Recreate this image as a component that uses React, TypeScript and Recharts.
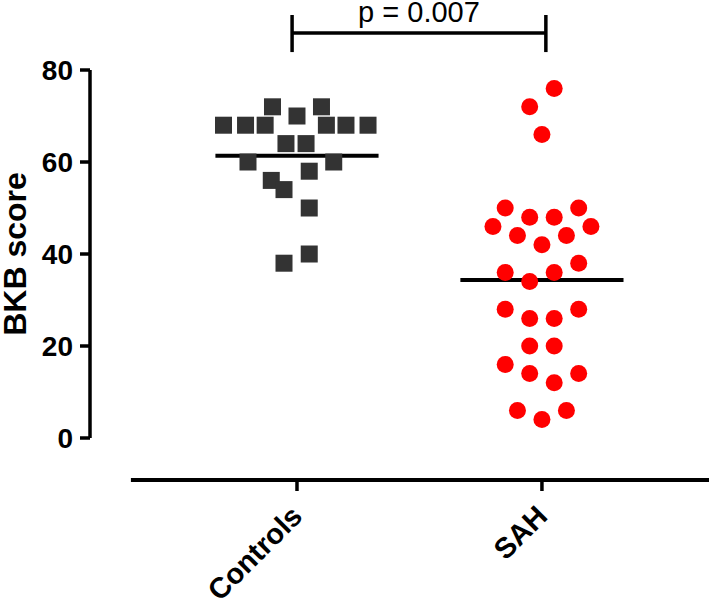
import { ComposedChart, Scatter, XAxis, YAxis, ReferenceLine, Label } from "recharts";

const GROUPS = ["Controls", "SAH"];
const GROUP_POS = [1, 2];

// BKB scores; the *_SPREAD arrays are the sideways scatter of each dot around its group
const CONTROLS_SCORE = [72, 72, 70, 68, 68, 68, 68, 68, 68, 64, 64, 60, 60, 58, 56, 54, 50, 40, 38];
const CONTROLS_SPREAD = [-0.1, 0.1, 0, -0.3, -0.21, -0.13, 0.12, 0.2, 0.29, -0.045, 0.037, -0.2, 0.15, 0.05, -0.105, -0.053, 0.05, 0.05, -0.053];

const SAH_SCORE = [76, 72, 66, 50, 50, 48, 48, 46, 46, 44, 44, 42, 38, 36, 36, 34, 28, 28, 26, 26, 20, 20, 16, 14, 14, 12, 6, 6, 4];
const SAH_SPREAD = [0.05, -0.05, 0, -0.15, 0.15, -0.05, 0.05, -0.2, 0.2, -0.1, 0.1, 0, 0.15, -0.15, 0.05, -0.05, -0.15, 0.15, -0.05, 0.05, -0.05, 0.05, -0.15, -0.05, 0.15, 0.05, -0.1, 0.1, 0];

const Y_TICKS = [0, 20, 40, 60, 80];
const P_VALUE = "p = 0.007";

const X_DOMAIN: [number, number] = [0.155, 2.682];
const Y_DOMAIN: [number, number] = [-9.13, 95.22];
const X_AXIS_START = 0.322;
const MEAN_HALF = 0.333;
const BRACKET_Y = 88.04;
const BRACKET_TOP = 91.96;
const BRACKET_BOTTOM = 83.9;
const BRACKET_LEFT = 0.98;
const BRACKET_RIGHT = 2.016;

const FONT = "'Liberation Sans', Arial, Helvetica, sans-serif";

const controls = CONTROLS_SCORE.map((y, i) => ({ x: GROUP_POS[0] + CONTROLS_SPREAD[i], y }));
const sah = SAH_SCORE.map((y, i) => ({ x: GROUP_POS[1] + SAH_SPREAD[i], y }));

const mean = (arr: number[]) => arr.reduce((a, b) => a + b, 0) / arr.length;

const Square = (p: any) => (
  <rect x={p.cx - 8.5} y={p.cy - 8.5} width={17} height={17} fill="#333333" />
);
const RedDot = (p: any) => <circle cx={p.cx} cy={p.cy} r={8.5} fill="#ff0000" />;

const CategoryTick = (props: any) => {
  const { x, y, payload } = props;
  const idx = GROUP_POS.indexOf(payload.value);
  return (
    <g transform={`translate(${x + 7},${y + 25})`}>
      <text
        textAnchor="end"
        transform="rotate(-45)"
        fontSize={29}
        fontWeight="bold"
        fontFamily={FONT}
        fill="#000"
      >
        {GROUPS[idx]}
      </text>
    </g>
  );
};

const line = { stroke: "#000", strokeWidth: 3.5 };

export default function App() {
  return (
    <div style={{ position: "absolute", left: 0, top: 0, background: "#fff" }}>
      <ComposedChart width={709} height={604} margin={{ top: 0, right: 0, bottom: 0, left: 0 }}>
        <XAxis
          type="number"
          dataKey="x"
          domain={X_DOMAIN}
          ticks={GROUP_POS}
          interval={0}
          allowDataOverflow
          axisLine={false}
          tickLine={line}
          tickSize={11}
          height={124}
          tick={CategoryTick}
        />
        <YAxis
          type="number"
          dataKey="y"
          domain={Y_DOMAIN}
          ticks={Y_TICKS}
          interval={0}
          allowDataOverflow
          axisLine={false}
          tickLine={line}
          tickSize={10}
          tickMargin={7}
          width={90}
          tick={{ fill: "#000", fontSize: 28, fontWeight: "bold", fontFamily: FONT }}
        >
          <Label
            content={() => (
              <text
                x={15}
                y={254}
                transform="rotate(-90 15 254)"
                textAnchor="middle"
                dominantBaseline="central"
                fontSize={32}
                fontWeight="bold"
                fontFamily={FONT}
                fill="#000"
              >
                BKB score
              </text>
            )}
          />
        </YAxis>

        {/* offset axis lines, Prism style */}
        <ReferenceLine
          segment={[{ x: X_DOMAIN[0], y: 0 }, { x: X_DOMAIN[0], y: 80 }]}
          ifOverflow="visible"
          {...line}
        />
        <ReferenceLine
          segment={[{ x: X_AXIS_START, y: Y_DOMAIN[0] }, { x: X_DOMAIN[1], y: Y_DOMAIN[0] }]}
          ifOverflow="visible"
          stroke="#000"
          strokeWidth={4}
        />

        <Scatter data={controls} shape={Square} isAnimationActive={false} />
        <Scatter data={sah} shape={RedDot} isAnimationActive={false} />

        {/* group means */}
        <ReferenceLine
          segment={[
            { x: GROUP_POS[0] - MEAN_HALF, y: mean(CONTROLS_SCORE) },
            { x: GROUP_POS[0] + MEAN_HALF, y: mean(CONTROLS_SCORE) },
          ]}
          ifOverflow="visible"
          stroke="#000"
          strokeWidth={4}
        />
        <ReferenceLine
          segment={[
            { x: GROUP_POS[1] - MEAN_HALF, y: mean(SAH_SCORE) },
            { x: GROUP_POS[1] + MEAN_HALF, y: mean(SAH_SCORE) },
          ]}
          ifOverflow="visible"
          stroke="#000"
          strokeWidth={4}
        />

        {/* significance bracket */}
        <ReferenceLine
          segment={[{ x: BRACKET_LEFT, y: BRACKET_Y }, { x: BRACKET_RIGHT, y: BRACKET_Y }]}
          ifOverflow="visible"
          {...line}
        >
          <Label
            value={P_VALUE}
            position="top"
            offset={11}
            fontSize={29}
            fontFamily={FONT}
            fill="#000"
          />
        </ReferenceLine>
        <ReferenceLine
          segment={[{ x: BRACKET_LEFT, y: BRACKET_TOP }, { x: BRACKET_LEFT, y: BRACKET_BOTTOM }]}
          ifOverflow="visible"
          {...line}
        />
        <ReferenceLine
          segment={[{ x: BRACKET_RIGHT, y: BRACKET_TOP }, { x: BRACKET_RIGHT, y: BRACKET_BOTTOM }]}
          ifOverflow="visible"
          {...line}
        />
      </ComposedChart>
    </div>
  );
}
